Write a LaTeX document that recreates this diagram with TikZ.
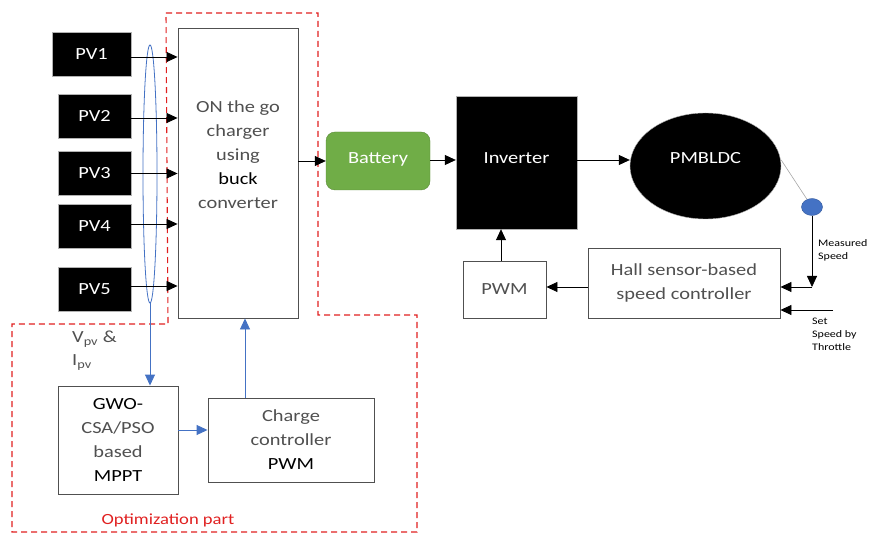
\documentclass[tikz,border=0pt]{standalone}
\usepackage{fontspec}
\setmainfont{Carlito}[FakeStretch=1.2]
\usetikzlibrary{shapes.geometric,arrows.meta}
\definecolor{bblue}{HTML}{4472C4}
\definecolor{bgreen}{HTML}{70AD47}
\definecolor{dred}{HTML}{E02020}
\definecolor{tgray}{HTML}{505050}
\begin{document}
\begin{tikzpicture}[x=1pt,y=-1pt,
  txt/.style={font=\fontsize{17}{24}\selectfont},
  pvbox/.style={draw=gray!60, fill=black, text=white, txt, minimum height=44pt, inner sep=0pt},
  wbox/.style={draw=tgray, line width=0.9pt, fill=white, txt, align=center, inner sep=0pt},
  arr/.style={-{Triangle[length=11pt,width=10pt]}, line width=0.8pt},
  barr/.style={-{Triangle[length=11pt,width=10pt]}, line width=0.9pt, draw=bblue, color=bblue},
  reddash/.style={draw=dred, line width=1.1pt, dash pattern=on 6pt off 4pt},
  small/.style={font=\fontsize{10}{13}\selectfont, align=left, inner sep=0pt}
]
\useasboundingbox (0,0) rectangle (869,534);

% red dashed outline
\draw[reddash] (166,13) -- (318,13) -- (318,315) -- (417,315) -- (417,532) -- (12,532) -- (12,324) -- (168,324) -- cycle;

% PV boxes
\node[pvbox, minimum width=79pt] (pv1) at (91.5,54) {PV1};
\node[pvbox, minimum width=73pt] (pv2) at (94.5,116) {PV2};
\node[pvbox, minimum width=73pt] (pv3) at (94.5,173.5) {PV3};
\node[pvbox, minimum width=73pt] (pv4) at (94.5,226) {PV4};
\node[pvbox, minimum width=73pt] (pv5) at (94.5,289) {PV5};

% charger
\node[wbox, minimum width=120pt, minimum height=290pt, text=tgray] (chg) at (238,173)
  {ON the go\\charger\\using\\\textcolor{black}{buck}\\converter\\[12pt]};

% blue ellipse
\node[draw=bblue, line width=0.8pt, ellipse, minimum width=14pt, minimum height=258pt, inner sep=0pt] (ell) at (150,174) {};

% PV arrows
\foreach \p/\dy in {pv1/3,pv2/2,pv3/0,pv4/-2,pv5/-3}{
  \draw[arr] ([yshift=-\dy pt]\p.east) -- ([yshift=-\dy pt]\p.east -| chg.west);
}

% battery
\node[draw=bgreen!80!black, fill=bgreen, rounded corners=9pt, minimum width=104pt, minimum height=58pt, text=white, txt, inner sep=0pt] (bat) at (378,161) {\raisebox{5pt}{Battery}};
% inverter
\node[draw=gray!60, fill=black, text=white, txt, minimum width=121pt, minimum height=133pt, inner sep=0pt] (inv) at (516.5,162.5) {\raisebox{9pt}{Inverter}};
% PMBLDC
\node[draw=gray!60, fill=black, ellipse, text=white, txt, minimum width=151pt, minimum height=106pt, inner sep=0pt] (pm) at (705.5,166) {\raisebox{17pt}{PMBLDC}};
% blue dot
\node[draw=bblue!80!black, fill=bblue, ellipse, minimum width=21pt, minimum height=17pt, inner sep=0pt] (dot) at (812,207) {};

% Hall sensor controller
\node[wbox, minimum width=192pt, minimum height=70pt, text=tgray] (hall) at (684,283) {Hall sensor-based\\speed controller};
% PWM
\node[wbox, minimum width=83pt, minimum height=57pt, text=tgray] (pwm) at (504.5,289.5) {PWM};

% MPPT
\node[wbox, minimum width=120pt, minimum height=108pt] (mppt) at (118,440)
  {GWO-\\\textcolor{tgray}{CSA/PSO}\\\textcolor{tgray}{based}\\MPPT};
% charge controller
\node[wbox, minimum width=166pt, minimum height=84pt, text=tgray] (cc) at (291,440)
  {Charge\\controller\\\textcolor{black}{PWM}};

% main chain arrows
\draw[arr] (chg.east |- bat.west) -- (bat.west);
\draw[arr] ([yshift=1pt]bat.east) -- ([yshift=1pt]bat.east -| inv.west);
\draw[arr] ([yshift=2.5pt]inv.east) -- ([yshift=2.5pt]inv.east -| pm.west);
\draw[gray!70, line width=0.6pt] ([yshift=6pt]pm.east) -- (dot);
\coordinate (mcorner) at (812,287);
\draw[arr] (dot.south) -- (mcorner);
\draw[arr] (mcorner) -- (mcorner -| hall.east);
\coordinate (thr) at (833,310);
\draw[arr] (thr) -- (thr -| hall.east);
\draw[arr] ([yshift=-4pt]hall.west) -- ([yshift=-4pt]hall.west -| pwm.east);
\draw[arr] ([xshift=-3.5pt]pwm.north) -- ([xshift=-3.5pt]pwm.north |- inv.south);

% blue arrows
\draw[barr] (ell.south) -- (ell.south |- mppt.north);
\draw[barr] ([yshift=10pt]mppt.east) -- ([yshift=10pt]mppt.east -| cc.west);
\draw[barr] ([xshift=-46pt]cc.north) -- ([xshift=-46pt]cc.north |- chg.south);

% labels
\node[small, anchor=north west] (ms) at (818,239) {Measured\\Speed};
\node[small, anchor=north west] (ss) at (812,318) {Set\\Speed by\\Throttle};
\node[txt, anchor=north west, align=left, text=tgray, inner sep=0pt] (vpv) at (72,331) {V\textsubscript{pv} \&\\[-1pt]I\textsubscript{pv}};
\node[font=\fontsize{15.5}{18}\selectfont, text=dred, inner sep=0pt] (opt) at (168,520) {Optimization part};
\end{tikzpicture}
\end{document}
